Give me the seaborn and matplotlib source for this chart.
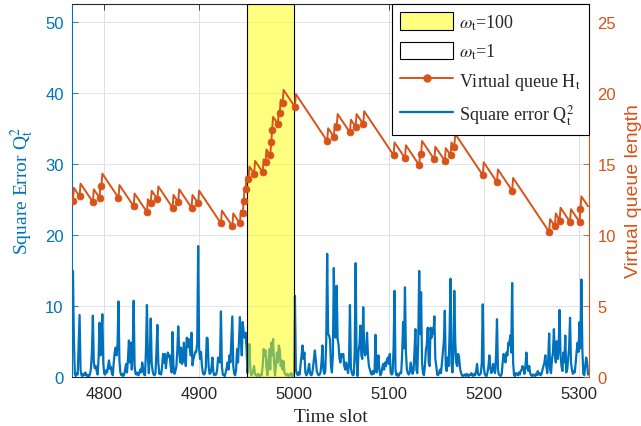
import numpy as np
import seaborn as sns
import matplotlib.pyplot as plt
from matplotlib.patches import Patch
from matplotlib.lines import Line2D

# Square error Q_t^2, one value per time slot starting at 4767
t0 = 4767
sq_err = [
    14.9, 5.2, 0.4, 0.1, 0.5, 0.3, 4.4, 8.7, 1.0, 0.2,
    0.1, 0.4, 0.2, 0.6, 0.3, 0.1, 0.2, 0.1, 0.4, 1.2,
    3.5, 8.6, 2.0, 1.2, 1.5, 0.8, 0.3, 2.5, 7.6, 3.0,
    5.5, 8.8, 1.8, 0.4, 0.3, 0.9, 0.6, 1.5, 2.3, 1.1,
    1.4, 0.5, 0.2, 2.0, 3.4, 4.1, 3.0, 4.5, 10.6, 2.2,
    0.6, 0.2, 0.4, 0.1, 0.3, 1.0, 1.8, 0.6, 2.5, 5.1,
    2.0, 4.8, 1.0, 3.5, 10.7, 1.5, 0.4, 0.3, 0.6, 0.2,
    0.5, 1.0, 0.6, 2.0, 1.2, 0.3, 0.2, 4.0, 10.1, 2.8,
    0.5, 3.0, 8.2, 2.0, 0.8, 0.3, 0.2, 0.5, 3.5, 7.3,
    2.0, 0.4, 0.6, 0.3, 1.5, 3.2, 2.0, 3.2, 1.2, 2.6,
    3.4, 2.8, 3.0, 1.5, 0.6, 6.3, 1.5, 0.4, 0.8, 1.4,
    3.6, 7.1, 3.8, 2.0, 4.1, 1.8, 2.2, 4.8, 2.5, 1.5,
    5.5, 4.2, 5.3, 4.1, 3.0, 6.2, 1.6, 2.5, 3.0, 3.5,
    3.5, 4.8, 18.4, 4.0, 2.5, 3.5, 1.5, 0.5, 0.3, 0.4,
    1.2, 5.5, 5.4, 1.5, 0.4, 0.5, 1.2, 2.7, 0.6, 0.2,
    0.4, 0.3, 1.0, 2.7, 2.2, 2.0, 9.2, 1.5, 0.3, 0.2,
    0.1, 0.6, 1.2, 2.0, 1.0, 3.0, 2.0, 5.1, 8.5, 1.5,
    0.4, 0.2, 1.0, 3.9, 2.0, 5.0, 8.4, 5.3, 3.0, 7.7,
    6.2, 5.5, 6.2, 4.0,
    # weighted window 4951-5000
    0.5, 2.0, 4.6, 1.0, 0.2, 0.4, 1.0, 1.5, 0.3, 0.2,
    0.1, 0.4, 0.2, 0.1, 0.3, 0.2, 1.5, 3.9, 3.0, 3.7,
    1.2, 0.2, 2.0, 3.9, 1.0, 4.8, 3.0, 5.3, 2.0, 0.2,
    1.5, 3.4, 2.0, 4.4, 3.8, 1.5, 2.3, 1.0, 2.2, 0.5,
    0.3, 0.2, 0.4, 0.1, 0.3, 0.2, 0.5, 0.1, 0.3, 0.2,
    # 5001-5310
    11.4, 1.0, 0.5, 0.2, 0.6, 0.3, 1.8, 3.0, 4.4, 2.5,
    3.4, 0.6, 0.2, 0.4, 1.0, 1.8, 0.5, 0.2, 0.3, 1.2,
    2.5, 3.7, 2.4, 0.8, 0.4, 0.2, 0.3, 0.6, 2.0, 4.4,
    1.0, 0.4, 0.8, 5.0, 17.3, 6.0, 5.8, 5.2, 1.5, 0.6,
    3.0, 15.3, 6.0, 5.5, 12.8, 5.3, 4.5, 2.5, 2.0, 3.2,
    2.8, 3.2, 1.5, 1.0, 2.0, 1.2, 0.5, 2.0, 10.1, 1.2,
    0.5, 0.2, 0.3, 3.5, 16.0, 2.5, 0.1, 3.5, 4.5, 7.2,
    3.0, 2.5, 9.8, 4.0, 3.0, 3.5, 6.2, 3.0, 1.5, 1.0,
    0.5, 0.3, 0.8, 0.4, 1.0, 5.9, 0.6, 1.5, 3.0, 1.0,
    0.2, 0.4, 1.2, 1.8, 1.0, 2.0, 1.5, 2.4, 2.7, 1.8,
    3.2, 0.6, 0.3, 0.5, 4.0, 12.1, 1.0, 0.2, 0.4, 0.1,
    0.3, 0.6, 0.5, 3.0, 7.7, 4.0, 12.6, 3.5, 1.0, 0.5,
    0.3, 0.6, 2.0, 1.2, 0.4, 0.8, 3.5, 6.7, 1.0, 0.5,
    5.0, 14.9, 6.0, 11.9, 2.0, 0.5, 0.2, 1.5, 3.7, 4.5,
    6.9, 2.0, 1.5, 6.9, 5.5, 6.8, 6.0, 8.5, 2.5, 1.5,
    0.3, 0.2, 0.6, 1.0, 0.5, 2.0, 3.4, 5.0, 9.3, 1.5,
    0.8, 2.7, 1.5, 6.0, 13.8, 2.0, 0.6, 3.0, 12.1, 5.0,
    2.0, 1.5, 3.2, 2.8, 1.2, 0.6, 0.2, 0.1, 0.2, 0.3,
    0.1, 0.4, 0.2, 0.1, 0.3, 0.2, 0.5, 0.2, 0.1, 0.4,
    0.2, 0.8, 1.8, 0.4, 0.2, 0.3, 0.5, 2.0, 10.2, 1.5,
    0.4, 0.2, 0.1, 0.6, 1.5, 3.0, 1.2, 0.5, 1.0, 1.8,
    0.8, 0.5, 3.0, 8.1, 1.0, 0.3, 0.2, 0.1, 0.4, 2.0,
    3.2, 2.5, 2.0, 3.4, 3.0, 4.8, 4.5, 5.8, 3.4, 13.2,
    2.0, 0.2, 0.1, 0.5, 0.4, 0.2, 0.6, 0.3, 0.8, 1.0,
    1.5, 1.0, 0.4, 1.5, 3.4, 1.2, 0.8, 1.5, 0.5, 0.2,
    0.1, 0.3, 0.2, 0.1, 0.4, 0.2, 0.8, 0.3, 0.5, 0.2,
    0.4, 1.0, 1.5, 2.0, 3.0, 1.5, 0.5, 2.5, 6.1, 1.0,
    0.5, 2.5, 3.4, 6.7, 3.2, 2.0, 5.0, 2.5, 4.0, 9.4,
    3.0, 1.5, 0.8, 3.4, 2.0, 5.8, 0.6, 1.0, 2.5, 4.0,
    8.3, 2.0, 1.0, 0.4, 0.8, 0.6, 2.0, 3.6, 4.8, 3.5,
    7.7, 4.0, 13.7, 3.8, 0.4, 0.2, 1.5, 2.7, 2.0, 0.3,
]

# Virtual queue H_t: corner points of the saw-tooth (slot, value)
queue_t = [4767, 4768, 4774, 4775, 4788, 4789, 4795, 4796, 4797, 4798,
           4815, 4816, 4831, 4832, 4845, 4846, 4849, 4850, 4856, 4857,
           4872, 4873, 4878, 4879, 4892, 4893, 4899, 4900, 4923, 4924,
           4935, 4936, 4943, 4944, 4946, 4947, 4948, 4949, 4950, 4952,
           4953, 4958, 4959, 4967, 4968, 4970, 4971, 4975, 4976, 4977,
           4978, 4983, 4984, 4985, 4986, 4988, 4989, 5001, 5002, 5035,
           5036, 5042, 5043, 5045, 5046, 5059, 5060, 5065, 5066, 5073,
           5074, 5105, 5106, 5117, 5118, 5132, 5133, 5134, 5135, 5148,
           5149, 5159, 5160, 5165, 5166, 5169, 5170, 5199, 5200, 5214,
           5215, 5230, 5231, 5269, 5270, 5275, 5276, 5280, 5281, 5291,
           5292, 5301, 5302, 5303, 5310]
queue_h = [12.4, 13.3, 12.7, 13.6, 12.3, 13.2, 12.6, 13.5, 13.4, 14.3,
           12.6, 13.5, 12.0, 12.9, 11.6, 12.5, 12.2, 13.1, 12.5, 13.4,
           11.9, 12.8, 12.3, 13.2, 11.9, 12.8, 12.2, 13.1, 10.8, 11.7,
           10.6, 11.5, 10.8, 11.7, 11.5, 12.4, 13.3, 13.2, 14.1, 13.9,
           14.8, 14.3, 15.2, 14.4, 15.3, 15.1, 16.0, 15.6, 16.5, 17.4,
           18.3, 17.8, 18.7, 18.6, 19.5, 19.3, 20.2, 19.0, 19.9, 16.6,
           17.5, 16.9, 17.8, 17.6, 18.5, 17.2, 18.1, 17.6, 18.5, 17.8,
           18.7, 15.6, 16.5, 15.4, 16.3, 14.9, 15.8, 15.7, 16.6, 15.3,
           16.2, 15.2, 16.1, 15.6, 16.5, 16.2, 17.1, 14.2, 15.1, 13.7,
           14.6, 13.1, 14.0, 10.2, 11.1, 10.6, 11.5, 11.0, 11.9, 10.9,
           11.8, 10.9, 11.8, 12.7, 12.0]

window = (4951, 5000)

blue = '#0072BD'
orange = '#D95319'
dark = '#262626'

sns.set_theme(style='white')
plt.rcParams['font.family'] = ['Liberation Sans', 'DejaVu Sans']
plt.rcParams['mathtext.fontset'] = 'stix'

slots = np.arange(t0, t0 + len(sq_err))
marks = [i for i in range(len(queue_h) - 1) if queue_h[i + 1] > queue_h[i]]

fig = plt.figure(figsize=(6.41, 4.27), dpi=100)
ax1 = fig.add_axes([72 / 641, 49.3 / 427, 517 / 641, 372.7 / 427])
ax2 = ax1.twinx()

ax1.set_axisbelow(True)
ax1.xaxis.grid(True, color='#dfdfdf', lw=0.7)
ax1.yaxis.grid(True, color='#d9e6f2', lw=0.7)

sns.lineplot(x=slots, y=sq_err, ax=ax1, color=blue, lw=1.6, estimator=None, zorder=2)
ax1.axvspan(window[0], window[1], facecolor=(1, 1, 0, 0.5), edgecolor='black', lw=0.8, zorder=3)

sns.lineplot(x=queue_t, y=queue_h, ax=ax2, color=orange, lw=1.4, estimator=None,
             marker='o', markevery=marks, markersize=5,
             markeredgecolor=orange, markeredgewidth=0.5)

ax1.set_xlim(4766, 5311)
ax1.set_ylim(0, 52.5)
ax2.set_ylim(0, 26.25)
ax1.set_xticks(range(4800, 5301, 100))
ax1.set_yticks(range(0, 51, 10))
ax2.set_yticks(range(0, 26, 5))

ax1.tick_params(axis='x', direction='in', length=4, width=0.6, top=True, colors=dark,
                labelsize=12, pad=7)
ax1.tick_params(axis='y', direction='in', length=4, width=0.6, colors=blue,
                labelsize=12, pad=6)
ax2.tick_params(axis='y', direction='in', length=4, width=0.6, colors=orange,
                labelsize=12, pad=6)

for s in ['top', 'bottom']:
    ax1.spines[s].set_color(dark)
    ax1.spines[s].set_linewidth(0.8)
ax1.spines['left'].set_color(blue)
ax1.spines['left'].set_linewidth(0.8)
ax1.spines['right'].set_visible(False)
for s in ['top', 'bottom', 'left']:
    ax2.spines[s].set_visible(False)
ax2.spines['right'].set_color(orange)
ax2.spines['right'].set_linewidth(0.8)

ax1.set_xlabel('Time slot', family='Liberation Serif', fontsize=14, color=dark, labelpad=5)
ax1.set_ylabel(r'Square Error Q$_{\mathrm{t}}^{2}$', family='Liberation Serif',
               fontsize=14, color=blue)
ax1.yaxis.set_label_coords(-0.07, 0.5)
ax2.set_ylabel('Virtual queue length', fontsize=14, color=orange)
ax2.yaxis.set_label_coords(1.069, 0.5)

handles = [
    Patch(facecolor=(1, 1, 0, 0.5), edgecolor='black', lw=0.8),
    Patch(facecolor='white', edgecolor='black', lw=0.8),
    Line2D([], [], color=orange, lw=1.4, marker='o', markersize=5),
    Line2D([], [], color=blue, lw=1.6),
]
labels = [r'$\omega_{\mathrm{t}}$=100', r'$\omega_{\mathrm{t}}$=1',
          r'Virtual queue H$_{\mathrm{t}}$', r'Square error Q$_{\mathrm{t}}^{2}$']
leg = ax2.legend(handles, labels, loc='upper right', bbox_to_anchor=(1, 1),
                 borderaxespad=0, fancybox=False, framealpha=1, edgecolor='black',
                 prop={'family': 'Liberation Serif', 'size': 13},
                 handlelength=2.9, handleheight=1.15, handletextpad=0.35,
                 labelspacing=0.55, borderpad=0.45)
leg.get_frame().set_linewidth(0.8)

fig.savefig('out.png', dpi=100)
